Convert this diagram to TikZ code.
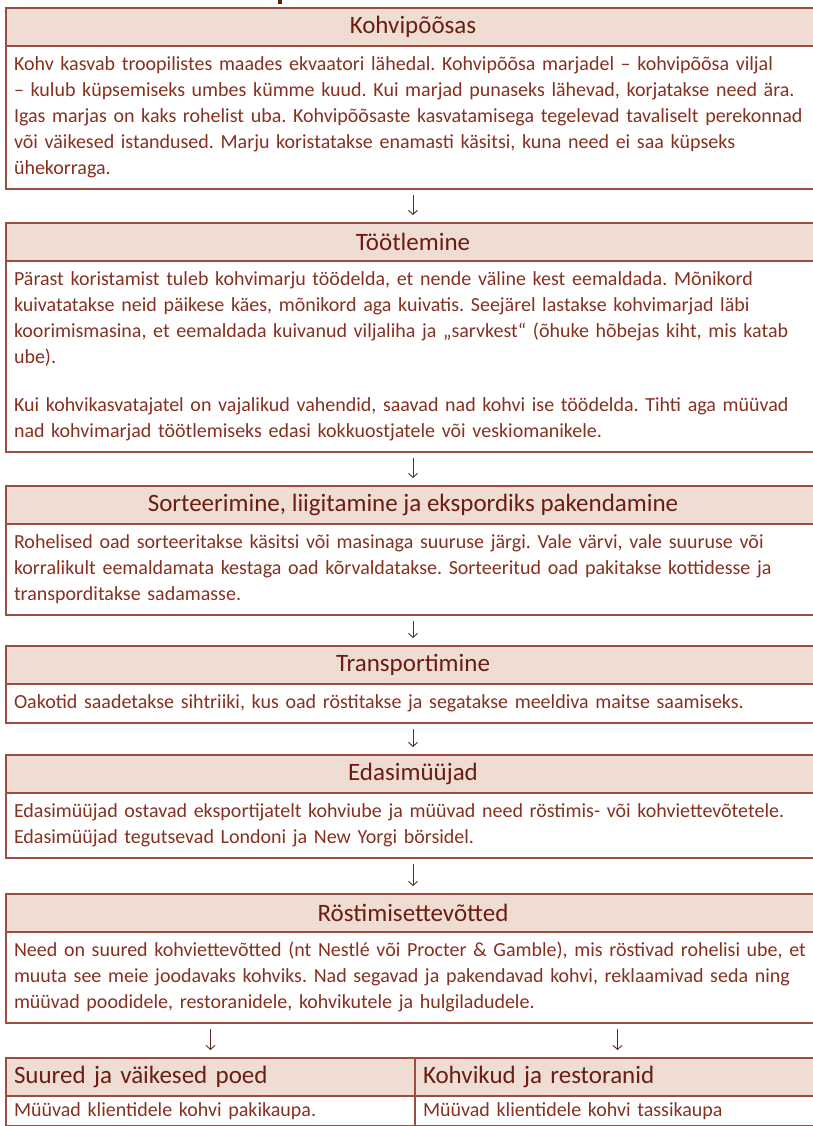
\documentclass[tikz,border=0pt]{standalone}
\usepackage{fontspec}
\setmainfont{Carlito}
\frenchspacing
\usetikzlibrary{positioning,calc,arrows.meta}
\definecolor{cFrame}{HTML}{9E4B40}
\definecolor{cFill}{HTML}{EFDDD4}
\definecolor{cHead}{HTML}{6B1D12}
\definecolor{cBody}{HTML}{86301F}
\definecolor{cArrow}{HTML}{5C2A22}
\tikzset{
    head/.style={
            draw=cFrame,
            fill=cFill,
            line width=1.5pt,
            outer sep=0pt, % borders meet
            inner xsep=8pt,
            inner ysep=1pt,
            minimum width=814pt,
            minimum height=38pt,
            text=cHead,
            font=\fontsize{25}{28}\selectfont
        },
    body/.style={
            draw=cFrame,
            line width=1.5pt,
            outer sep=0pt,
            inner xsep=8pt,
            inner ysep=6.5pt,
            text width=798pt,
            align=left,
            text=cBody,
            font=\fontsize{20}{26}\selectfont,
            execute at begin node=\strut,
            execute at end node=\strut
        },
    flow/.style={
            cArrow,
            line width=0.9pt,
            -{Straight Barb[length=4pt,width=9pt]},
            shorten <=6pt,
            shorten >=8pt
        }
}

\begin{document}
\begin{tikzpicture}[x=1pt,y=-1pt]
    \useasboundingbox (0,0) rectangle (812,1126);
    % cut-off title
    \fill[cHead] (278,0) rectangle (282,4);
    % chain of steps
    \node[head] (h1) at (413,27) {Kohvipõõsas};
    \node[body, below=0pt of h1] (b1) {Kohv kasvab troopilistes maades ekvaatori lähedal. Kohvipõõsa marjadel – kohvipõõsa viljal\\
    – kulub küpsemiseks umbes kümme kuud. Kui marjad punaseks lähevad, korjatakse need ära.\\
    Igas marjas on kaks rohelist uba. Kohvipõõsaste kasvatamisega tegelevad tavaliselt perekonnad\\
    või väikesed istandused. Marju koristatakse enamasti käsitsi, kuna need ei saa küpseks\\
    ühekorraga.};
    \node[head, below=34pt of b1] (h2) {Töötlemine};
    \node[body, below=0pt of h2] (b2) {Pärast koristamist tuleb kohvimarju töödelda, et nende väline kest eemaldada. Mõnikord\\
    kuivatatakse neid päikese käes, mõnikord aga kuivatis. Seejärel lastakse kohvimarjad läbi\\
    koorimismasina, et eemaldada kuivanud viljaliha ja „sarvkest“ (õhuke hõbejas kiht, mis katab\\
    ube).\\[22pt]
    Kui kohvikasvatajatel on vajalikud vahendid, saavad nad kohvi ise töödelda. Tihti aga müüvad\\
    nad kohvimarjad töötlemiseks edasi kokkuostjatele või veskiomanikele.};
    \node[head, below=34pt of b2] (h3) {Sorteerimine, liigitamine ja ekspordiks pakendamine};
    \node[body, below=0pt of h3] (b3) {Rohelised oad sorteeritakse käsitsi või masinaga suuruse järgi. Vale värvi, vale suuruse või\\
    korralikult eemaldamata kestaga oad kõrvaldatakse. Sorteeritud oad pakitakse kottidesse ja\\
    transporditakse sadamasse.};
    \node[head, below=31pt of b3] (h4) {Transportimine};
    \node[body, below=0pt of h4] (b4) {Oakotid saadetakse sihtriiki, kus oad röstitakse ja segatakse meeldiva maitse saamiseks.};
    \node[head, below=32pt of b4] (h5) {Edasimüüjad};
    \node[body, below=0pt of h5] (b5) {Edasimüüjad ostavad eksportijatelt kohviube ja müüvad need röstimis- või kohviettevõtetele.\\
    Edasimüüjad tegutsevad Londoni ja New Yorgi börsidel.};
    \node[head, below=36pt of b5] (h6) {Röstimisettevõtted};
    \node[body, below=0pt of h6] (b6) {Need on suured kohviettevõtted (nt Nestlé või Procter \& Gamble), mis röstivad rohelisi ube, et\\
    muuta see meie joodavaks kohviks. Nad segavad ja pakendavad kohvi, reklaamivad seda ning\\
    müüvad poodidele, restoranidele, kohvikutele ja hulgiladudele.};
    % two outlets
    \node[head, anchor=north west, minimum width=409pt, text width=393pt, align=left]
    (h7) at ($(b6.south west)+(0,35)$) {Suured ja väikesed poed};
    \node[body, anchor=north west, text width=393pt, inner ysep=2pt]
    (b7) at (h7.south west) {Müüvad klientidele kohvi pakikaupa.};
    \node[head, anchor=north west, minimum width=405pt, text width=389pt, align=left]
    (h8) at (h7.north east) {Kohvikud ja restoranid};
    \node[body, anchor=north west, text width=389pt, inner ysep=2pt]
    (b8) at (h8.south west) {Müüvad klientidele kohvi tassikaupa};
    % arrows
    \path[flow]
    (b1) edge (h2)
    (b2) edge (h3)
    (b3) edge (h4)
    (b4) edge (h5)
    (b5) edge (h6)
    (h7 |- b6.south) edge (h7)
    (h8 |- b6.south) edge (h8);
\end{tikzpicture}
\end{document}
